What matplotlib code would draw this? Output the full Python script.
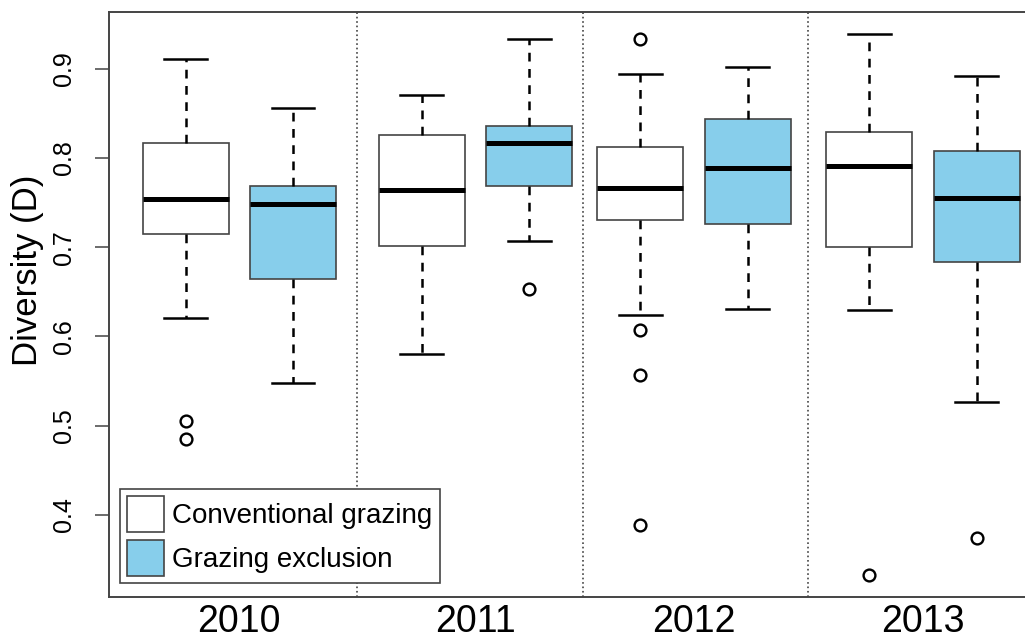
import matplotlib.pyplot as plt
from matplotlib.patches import Patch

plt.rcParams['font.family'] = ['Liberation Sans', 'DejaVu Sans']

years = ['2010', '2011', '2012', '2013']
treatments = ['Conventional grazing', 'Grazing exclusion']
colors = ['white', '#87CEEB']

# one box per year x treatment: conv, excl, conv, excl ...
whislo = [0.621, 0.548, 0.580, 0.707, 0.624, 0.631, 0.630, 0.527]
q1 = [0.715, 0.664, 0.701, 0.768, 0.730, 0.726, 0.700, 0.683]
med = [0.754, 0.748, 0.764, 0.817, 0.766, 0.789, 0.791, 0.755]
q3 = [0.817, 0.768, 0.826, 0.836, 0.812, 0.844, 0.829, 0.808]
whishi = [0.911, 0.856, 0.871, 0.933, 0.894, 0.902, 0.939, 0.892]
fliers = [[0.505, 0.485], [], [], [0.653],
          [0.933, 0.607, 0.557, 0.389], [], [0.333], [0.374]]

positions = [1, 2, 3.2, 4.2, 5.23, 6.23, 7.36, 8.36]
dividers = [2.6, 4.7, 6.79]

stats = []
for i in range(len(med)):
    stats.append(dict(whislo=whislo[i], q1=q1[i], med=med[i], q3=q3[i],
                      whishi=whishi[i], fliers=fliers[i]))

fig = plt.figure(figsize=(10.25, 6.4), dpi=100)
ax = fig.add_axes([109.3 / 1025, 1 - 597 / 640, 1 - 109.3 / 1025, (597 - 12.3) / 640])

bp = ax.bxp(stats, positions=positions, widths=0.8, patch_artist=True,
            boxprops=dict(edgecolor='#444444', linewidth=1.2),
            medianprops=dict(color='black', linewidth=3.6, solid_capstyle='butt'),
            whiskerprops=dict(color='black', linewidth=1.8, linestyle=(0, (3.5, 3))),
            capprops=dict(color='black', linewidth=1.8),
            capwidths=0.4,
            flierprops=dict(marker='o', markersize=8.5, markerfacecolor='none',
                            markeredgecolor='black', markeredgewidth=1.7))
for i, patch in enumerate(bp['boxes']):
    patch.set_facecolor(colors[i % 2])

for d in dividers:
    ax.axvline(d, color='#444444', linestyle=':', linewidth=1.2, zorder=0)

ax.set_xlim(0.291, 8.81)
ax.set_ylim(0.3079, 0.9632)

group_centers = [(positions[2 * k] + positions[2 * k + 1]) / 2 for k in range(len(years))]
ax.set_xticks(group_centers)
ax.set_xticklabels(years, fontsize=27)
ax.tick_params(axis='x', length=0, pad=5)

ax.set_yticks([0.4, 0.5, 0.6, 0.7, 0.8, 0.9])
ax.set_yticklabels(['0.4', '0.5', '0.6', '0.7', '0.8', '0.9'], rotation=90,
                   va='center', fontsize=18)
ax.tick_params(axis='y', length=10, width=1.1, color='#444444', pad=14)
fig.text(28 / 1025, 1 - 270 / 640, 'Diversity (D)', rotation=90,
         ha='center', va='center', fontsize=25)

for side in ['left', 'top', 'bottom']:
    ax.spines[side].set_color('#444444')
    ax.spines[side].set_linewidth(1.4)
ax.spines['right'].set_visible(False)

handles = [Patch(facecolor=colors[i], edgecolor='#444444', linewidth=1.2)
           for i in range(2)]
ax.legend(handles, treatments, loc='upper left',
          bbox_to_anchor=(120 / 1025, 1 - 489 / 640), bbox_transform=fig.transFigure,
          fontsize=20, frameon=True, fancybox=False, framealpha=1,
          edgecolor='#444444', borderpad=0.25, borderaxespad=0,
          handlelength=1.32, handleheight=1.6, handletextpad=0.32,
          labelspacing=0.3)
ax.get_legend().get_frame().set_linewidth(1.2)

fig.savefig('out.png', dpi=100)
